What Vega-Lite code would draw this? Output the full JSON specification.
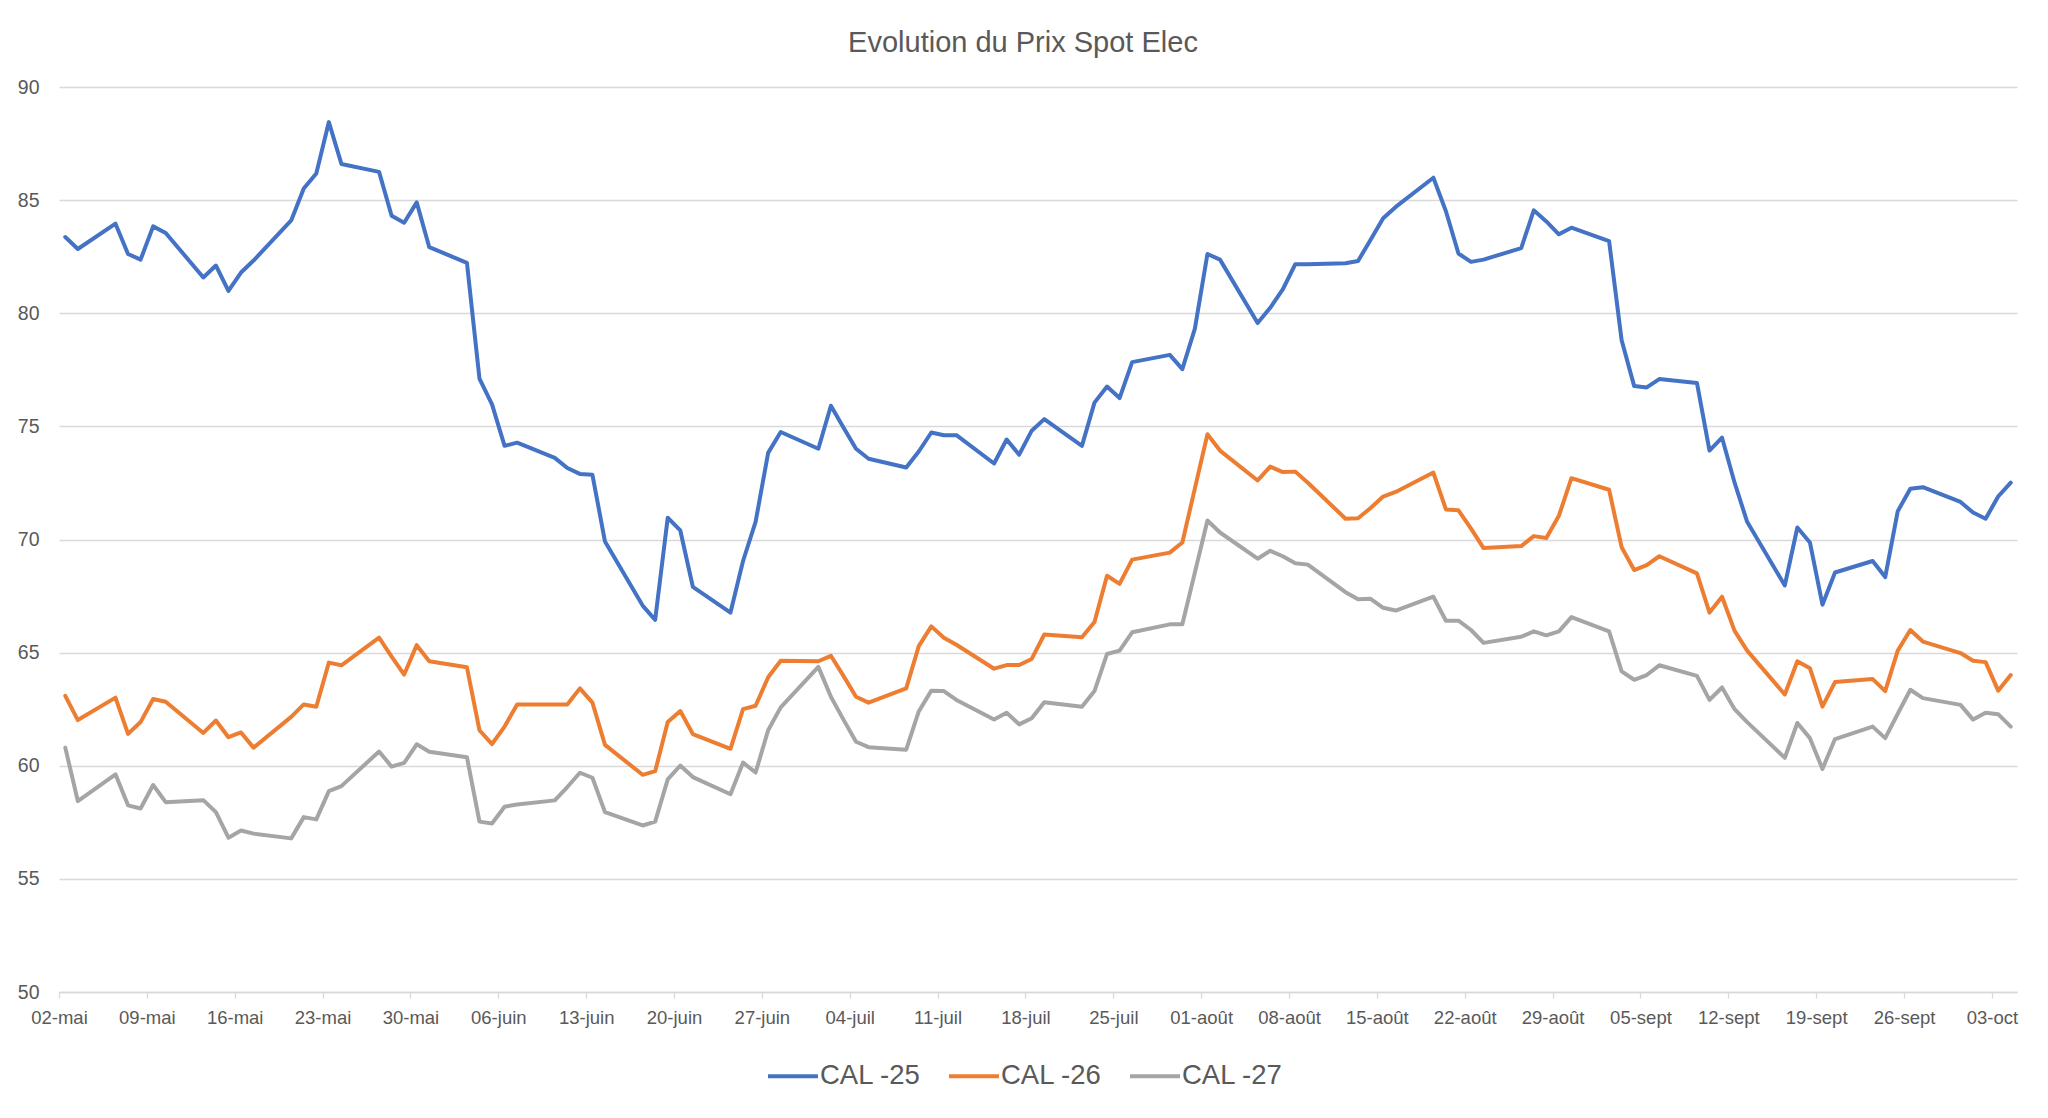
{
  "$schema": "https://vega.github.io/schema/vega-lite/v6.json",
  "width": 1958,
  "height": 905,
  "autosize": {"type": "none"},
  "padding": {"left": 59, "top": 87, "right": 31, "bottom": 126},
  "background": "white",
  "title": {"text": "Evolution du Prix Spot Elec", "font": "Liberation Sans", "fontSize": 29, "fontWeight": "normal", "color": "#595959", "anchor": "middle", "dx": -15, "offset": 35, "dy": 39, "baseline": "alphabetic"},
  "datasets": {
    "prix": [
      {"d":"2024-05-02T12:00:00Z","s":"CAL -25","v":83.37},{"d":"2024-05-02T12:00:00Z","s":"CAL -26","v":63.09},{"d":"2024-05-02T12:00:00Z","s":"CAL -27","v":60.80},
      {"d":"2024-05-03T12:00:00Z","s":"CAL -25","v":82.84},{"d":"2024-05-03T12:00:00Z","s":"CAL -26","v":62.02},{"d":"2024-05-03T12:00:00Z","s":"CAL -27","v":58.44},
      {"d":"2024-05-06T12:00:00Z","s":"CAL -25","v":83.96},{"d":"2024-05-06T12:00:00Z","s":"CAL -26","v":63.01},{"d":"2024-05-06T12:00:00Z","s":"CAL -27","v":59.62},
      {"d":"2024-05-07T12:00:00Z","s":"CAL -25","v":82.62},{"d":"2024-05-07T12:00:00Z","s":"CAL -26","v":61.41},{"d":"2024-05-07T12:00:00Z","s":"CAL -27","v":58.25},
      {"d":"2024-05-08T12:00:00Z","s":"CAL -25","v":82.37},{"d":"2024-05-08T12:00:00Z","s":"CAL -26","v":61.93},{"d":"2024-05-08T12:00:00Z","s":"CAL -27","v":58.11},
      {"d":"2024-05-09T12:00:00Z","s":"CAL -25","v":83.84},{"d":"2024-05-09T12:00:00Z","s":"CAL -26","v":62.95},{"d":"2024-05-09T12:00:00Z","s":"CAL -27","v":59.15},
      {"d":"2024-05-10T12:00:00Z","s":"CAL -25","v":83.55},{"d":"2024-05-10T12:00:00Z","s":"CAL -26","v":62.83},{"d":"2024-05-10T12:00:00Z","s":"CAL -27","v":58.39},
      {"d":"2024-05-13T12:00:00Z","s":"CAL -25","v":81.58},{"d":"2024-05-13T12:00:00Z","s":"CAL -26","v":61.45},{"d":"2024-05-13T12:00:00Z","s":"CAL -27","v":58.48},
      {"d":"2024-05-14T12:00:00Z","s":"CAL -25","v":82.11},{"d":"2024-05-14T12:00:00Z","s":"CAL -26","v":62.00},{"d":"2024-05-14T12:00:00Z","s":"CAL -27","v":57.95},
      {"d":"2024-05-15T12:00:00Z","s":"CAL -25","v":80.99},{"d":"2024-05-15T12:00:00Z","s":"CAL -26","v":61.26},{"d":"2024-05-15T12:00:00Z","s":"CAL -27","v":56.82},
      {"d":"2024-05-16T12:00:00Z","s":"CAL -25","v":81.80},{"d":"2024-05-16T12:00:00Z","s":"CAL -26","v":61.47},{"d":"2024-05-16T12:00:00Z","s":"CAL -27","v":57.14},
      {"d":"2024-05-17T12:00:00Z","s":"CAL -25","v":82.33},{"d":"2024-05-17T12:00:00Z","s":"CAL -26","v":60.80},{"d":"2024-05-17T12:00:00Z","s":"CAL -27","v":57.00},
      {"d":"2024-05-20T12:00:00Z","s":"CAL -25","v":84.10},{"d":"2024-05-20T12:00:00Z","s":"CAL -26","v":62.16},{"d":"2024-05-20T12:00:00Z","s":"CAL -27","v":56.79},
      {"d":"2024-05-21T12:00:00Z","s":"CAL -25","v":85.51},{"d":"2024-05-21T12:00:00Z","s":"CAL -26","v":62.71},{"d":"2024-05-21T12:00:00Z","s":"CAL -27","v":57.73},
      {"d":"2024-05-22T12:00:00Z","s":"CAL -25","v":86.18},{"d":"2024-05-22T12:00:00Z","s":"CAL -26","v":62.61},{"d":"2024-05-22T12:00:00Z","s":"CAL -27","v":57.63},
      {"d":"2024-05-23T12:00:00Z","s":"CAL -25","v":88.45},{"d":"2024-05-23T12:00:00Z","s":"CAL -26","v":64.56},{"d":"2024-05-23T12:00:00Z","s":"CAL -27","v":58.88},
      {"d":"2024-05-24T12:00:00Z","s":"CAL -25","v":86.60},{"d":"2024-05-24T12:00:00Z","s":"CAL -26","v":64.44},{"d":"2024-05-24T12:00:00Z","s":"CAL -27","v":59.10},
      {"d":"2024-05-27T12:00:00Z","s":"CAL -25","v":86.25},{"d":"2024-05-27T12:00:00Z","s":"CAL -26","v":65.66},{"d":"2024-05-27T12:00:00Z","s":"CAL -27","v":60.63},
      {"d":"2024-05-28T12:00:00Z","s":"CAL -25","v":84.31},{"d":"2024-05-28T12:00:00Z","s":"CAL -26","v":64.82},{"d":"2024-05-28T12:00:00Z","s":"CAL -27","v":59.96},
      {"d":"2024-05-29T12:00:00Z","s":"CAL -25","v":84.00},{"d":"2024-05-29T12:00:00Z","s":"CAL -26","v":64.03},{"d":"2024-05-29T12:00:00Z","s":"CAL -27","v":60.13},
      {"d":"2024-05-30T12:00:00Z","s":"CAL -25","v":84.90},{"d":"2024-05-30T12:00:00Z","s":"CAL -26","v":65.33},{"d":"2024-05-30T12:00:00Z","s":"CAL -27","v":60.95},
      {"d":"2024-05-31T12:00:00Z","s":"CAL -25","v":82.92},{"d":"2024-05-31T12:00:00Z","s":"CAL -26","v":64.62},{"d":"2024-05-31T12:00:00Z","s":"CAL -27","v":60.62},
      {"d":"2024-06-03T12:00:00Z","s":"CAL -25","v":82.23},{"d":"2024-06-03T12:00:00Z","s":"CAL -26","v":64.35},{"d":"2024-06-03T12:00:00Z","s":"CAL -27","v":60.38},
      {"d":"2024-06-04T12:00:00Z","s":"CAL -25","v":77.11},{"d":"2024-06-04T12:00:00Z","s":"CAL -26","v":61.57},{"d":"2024-06-04T12:00:00Z","s":"CAL -27","v":57.53},
      {"d":"2024-06-05T12:00:00Z","s":"CAL -25","v":75.97},{"d":"2024-06-05T12:00:00Z","s":"CAL -26","v":60.96},{"d":"2024-06-05T12:00:00Z","s":"CAL -27","v":57.45},
      {"d":"2024-06-06T12:00:00Z","s":"CAL -25","v":74.14},{"d":"2024-06-06T12:00:00Z","s":"CAL -26","v":61.73},{"d":"2024-06-06T12:00:00Z","s":"CAL -27","v":58.19},
      {"d":"2024-06-07T12:00:00Z","s":"CAL -25","v":74.28},{"d":"2024-06-07T12:00:00Z","s":"CAL -26","v":62.71},{"d":"2024-06-07T12:00:00Z","s":"CAL -27","v":58.29},
      {"d":"2024-06-10T12:00:00Z","s":"CAL -25","v":73.61},{"d":"2024-06-10T12:00:00Z","s":"CAL -26","v":62.71},{"d":"2024-06-10T12:00:00Z","s":"CAL -27","v":58.47},
      {"d":"2024-06-11T12:00:00Z","s":"CAL -25","v":73.16},{"d":"2024-06-11T12:00:00Z","s":"CAL -26","v":62.71},{"d":"2024-06-11T12:00:00Z","s":"CAL -27","v":59.06},
      {"d":"2024-06-12T12:00:00Z","s":"CAL -25","v":72.90},{"d":"2024-06-12T12:00:00Z","s":"CAL -26","v":63.42},{"d":"2024-06-12T12:00:00Z","s":"CAL -27","v":59.69},
      {"d":"2024-06-13T12:00:00Z","s":"CAL -25","v":72.86},{"d":"2024-06-13T12:00:00Z","s":"CAL -26","v":62.79},{"d":"2024-06-13T12:00:00Z","s":"CAL -27","v":59.47},
      {"d":"2024-06-14T12:00:00Z","s":"CAL -25","v":69.91},{"d":"2024-06-14T12:00:00Z","s":"CAL -26","v":60.92},{"d":"2024-06-14T12:00:00Z","s":"CAL -27","v":57.95},
      {"d":"2024-06-17T12:00:00Z","s":"CAL -25","v":67.08},{"d":"2024-06-17T12:00:00Z","s":"CAL -26","v":59.60},{"d":"2024-06-17T12:00:00Z","s":"CAL -27","v":57.36},
      {"d":"2024-06-18T12:00:00Z","s":"CAL -25","v":66.45},{"d":"2024-06-18T12:00:00Z","s":"CAL -26","v":59.76},{"d":"2024-06-18T12:00:00Z","s":"CAL -27","v":57.53},
      {"d":"2024-06-19T12:00:00Z","s":"CAL -25","v":70.96},{"d":"2024-06-19T12:00:00Z","s":"CAL -26","v":61.93},{"d":"2024-06-19T12:00:00Z","s":"CAL -27","v":59.40},
      {"d":"2024-06-20T12:00:00Z","s":"CAL -25","v":70.40},{"d":"2024-06-20T12:00:00Z","s":"CAL -26","v":62.42},{"d":"2024-06-20T12:00:00Z","s":"CAL -27","v":60.01},
      {"d":"2024-06-21T12:00:00Z","s":"CAL -25","v":67.91},{"d":"2024-06-21T12:00:00Z","s":"CAL -26","v":61.40},{"d":"2024-06-21T12:00:00Z","s":"CAL -27","v":59.50},
      {"d":"2024-06-24T12:00:00Z","s":"CAL -25","v":66.77},{"d":"2024-06-24T12:00:00Z","s":"CAL -26","v":60.75},{"d":"2024-06-24T12:00:00Z","s":"CAL -27","v":58.74},
      {"d":"2024-06-25T12:00:00Z","s":"CAL -25","v":69.05},{"d":"2024-06-25T12:00:00Z","s":"CAL -26","v":62.50},{"d":"2024-06-25T12:00:00Z","s":"CAL -27","v":60.14},
      {"d":"2024-06-26T12:00:00Z","s":"CAL -25","v":70.78},{"d":"2024-06-26T12:00:00Z","s":"CAL -26","v":62.65},{"d":"2024-06-26T12:00:00Z","s":"CAL -27","v":59.70},
      {"d":"2024-06-27T12:00:00Z","s":"CAL -25","v":73.83},{"d":"2024-06-27T12:00:00Z","s":"CAL -26","v":63.91},{"d":"2024-06-27T12:00:00Z","s":"CAL -27","v":61.57},
      {"d":"2024-06-28T12:00:00Z","s":"CAL -25","v":74.75},{"d":"2024-06-28T12:00:00Z","s":"CAL -26","v":64.64},{"d":"2024-06-28T12:00:00Z","s":"CAL -27","v":62.58},
      {"d":"2024-07-01T12:00:00Z","s":"CAL -25","v":74.01},{"d":"2024-07-01T12:00:00Z","s":"CAL -26","v":64.62},{"d":"2024-07-01T12:00:00Z","s":"CAL -27","v":64.37},
      {"d":"2024-07-02T12:00:00Z","s":"CAL -25","v":75.91},{"d":"2024-07-02T12:00:00Z","s":"CAL -26","v":64.86},{"d":"2024-07-02T12:00:00Z","s":"CAL -27","v":63.05},
      {"d":"2024-07-03T12:00:00Z","s":"CAL -25","v":74.95},{"d":"2024-07-03T12:00:00Z","s":"CAL -26","v":63.97},{"d":"2024-07-03T12:00:00Z","s":"CAL -27","v":62.04},
      {"d":"2024-07-04T12:00:00Z","s":"CAL -25","v":74.01},{"d":"2024-07-04T12:00:00Z","s":"CAL -26","v":63.05},{"d":"2024-07-04T12:00:00Z","s":"CAL -27","v":61.06},
      {"d":"2024-07-05T12:00:00Z","s":"CAL -25","v":73.57},{"d":"2024-07-05T12:00:00Z","s":"CAL -26","v":62.79},{"d":"2024-07-05T12:00:00Z","s":"CAL -27","v":60.82},
      {"d":"2024-07-08T12:00:00Z","s":"CAL -25","v":73.18},{"d":"2024-07-08T12:00:00Z","s":"CAL -26","v":63.42},{"d":"2024-07-08T12:00:00Z","s":"CAL -27","v":60.71},
      {"d":"2024-07-09T12:00:00Z","s":"CAL -25","v":73.89},{"d":"2024-07-09T12:00:00Z","s":"CAL -26","v":65.29},{"d":"2024-07-09T12:00:00Z","s":"CAL -27","v":62.40},
      {"d":"2024-07-10T12:00:00Z","s":"CAL -25","v":74.73},{"d":"2024-07-10T12:00:00Z","s":"CAL -26","v":66.16},{"d":"2024-07-10T12:00:00Z","s":"CAL -27","v":63.32},
      {"d":"2024-07-11T12:00:00Z","s":"CAL -25","v":74.61},{"d":"2024-07-11T12:00:00Z","s":"CAL -26","v":65.66},{"d":"2024-07-11T12:00:00Z","s":"CAL -27","v":63.30},
      {"d":"2024-07-12T12:00:00Z","s":"CAL -25","v":74.61},{"d":"2024-07-12T12:00:00Z","s":"CAL -26","v":65.35},{"d":"2024-07-12T12:00:00Z","s":"CAL -27","v":62.91},
      {"d":"2024-07-15T12:00:00Z","s":"CAL -25","v":73.36},{"d":"2024-07-15T12:00:00Z","s":"CAL -26","v":64.29},{"d":"2024-07-15T12:00:00Z","s":"CAL -27","v":62.04},
      {"d":"2024-07-16T12:00:00Z","s":"CAL -25","v":74.42},{"d":"2024-07-16T12:00:00Z","s":"CAL -26","v":64.45},{"d":"2024-07-16T12:00:00Z","s":"CAL -27","v":62.34},
      {"d":"2024-07-17T12:00:00Z","s":"CAL -25","v":73.75},{"d":"2024-07-17T12:00:00Z","s":"CAL -26","v":64.45},{"d":"2024-07-17T12:00:00Z","s":"CAL -27","v":61.83},
      {"d":"2024-07-18T12:00:00Z","s":"CAL -25","v":74.81},{"d":"2024-07-18T12:00:00Z","s":"CAL -26","v":64.72},{"d":"2024-07-18T12:00:00Z","s":"CAL -27","v":62.10},
      {"d":"2024-07-19T12:00:00Z","s":"CAL -25","v":75.32},{"d":"2024-07-19T12:00:00Z","s":"CAL -26","v":65.80},{"d":"2024-07-19T12:00:00Z","s":"CAL -27","v":62.81},
      {"d":"2024-07-22T12:00:00Z","s":"CAL -25","v":74.14},{"d":"2024-07-22T12:00:00Z","s":"CAL -26","v":65.68},{"d":"2024-07-22T12:00:00Z","s":"CAL -27","v":62.61},
      {"d":"2024-07-23T12:00:00Z","s":"CAL -25","v":76.05},{"d":"2024-07-23T12:00:00Z","s":"CAL -26","v":66.35},{"d":"2024-07-23T12:00:00Z","s":"CAL -27","v":63.30},
      {"d":"2024-07-24T12:00:00Z","s":"CAL -25","v":76.76},{"d":"2024-07-24T12:00:00Z","s":"CAL -26","v":68.40},{"d":"2024-07-24T12:00:00Z","s":"CAL -27","v":64.94},
      {"d":"2024-07-25T12:00:00Z","s":"CAL -25","v":76.25},{"d":"2024-07-25T12:00:00Z","s":"CAL -26","v":68.04},{"d":"2024-07-25T12:00:00Z","s":"CAL -27","v":65.09},
      {"d":"2024-07-26T12:00:00Z","s":"CAL -25","v":77.84},{"d":"2024-07-26T12:00:00Z","s":"CAL -26","v":69.11},{"d":"2024-07-26T12:00:00Z","s":"CAL -27","v":65.90},
      {"d":"2024-07-29T12:00:00Z","s":"CAL -25","v":78.16},{"d":"2024-07-29T12:00:00Z","s":"CAL -26","v":69.42},{"d":"2024-07-29T12:00:00Z","s":"CAL -27","v":66.25},
      {"d":"2024-07-30T12:00:00Z","s":"CAL -25","v":77.53},{"d":"2024-07-30T12:00:00Z","s":"CAL -26","v":69.87},{"d":"2024-07-30T12:00:00Z","s":"CAL -27","v":66.25},
      {"d":"2024-07-31T12:00:00Z","s":"CAL -25","v":79.32},{"d":"2024-07-31T12:00:00Z","s":"CAL -26","v":72.26},{"d":"2024-07-31T12:00:00Z","s":"CAL -27","v":68.54},
      {"d":"2024-08-01T12:00:00Z","s":"CAL -25","v":82.62},{"d":"2024-08-01T12:00:00Z","s":"CAL -26","v":74.65},{"d":"2024-08-01T12:00:00Z","s":"CAL -27","v":70.84},
      {"d":"2024-08-02T12:00:00Z","s":"CAL -25","v":82.37},{"d":"2024-08-02T12:00:00Z","s":"CAL -26","v":73.93},{"d":"2024-08-02T12:00:00Z","s":"CAL -27","v":70.31},
      {"d":"2024-08-05T12:00:00Z","s":"CAL -25","v":79.57},{"d":"2024-08-05T12:00:00Z","s":"CAL -26","v":72.61},{"d":"2024-08-05T12:00:00Z","s":"CAL -27","v":69.15},
      {"d":"2024-08-06T12:00:00Z","s":"CAL -25","v":80.24},{"d":"2024-08-06T12:00:00Z","s":"CAL -26","v":73.22},{"d":"2024-08-06T12:00:00Z","s":"CAL -27","v":69.50},
      {"d":"2024-08-07T12:00:00Z","s":"CAL -25","v":81.05},{"d":"2024-08-07T12:00:00Z","s":"CAL -26","v":72.98},{"d":"2024-08-07T12:00:00Z","s":"CAL -27","v":69.26},
      {"d":"2024-08-08T12:00:00Z","s":"CAL -25","v":82.17},{"d":"2024-08-08T12:00:00Z","s":"CAL -26","v":73.00},{"d":"2024-08-08T12:00:00Z","s":"CAL -27","v":68.95},
      {"d":"2024-08-09T12:00:00Z","s":"CAL -25","v":82.17},{"d":"2024-08-09T12:00:00Z","s":"CAL -26","v":72.51},{"d":"2024-08-09T12:00:00Z","s":"CAL -27","v":68.89},
      {"d":"2024-08-12T12:00:00Z","s":"CAL -25","v":82.21},{"d":"2024-08-12T12:00:00Z","s":"CAL -26","v":70.92},{"d":"2024-08-12T12:00:00Z","s":"CAL -27","v":67.67},
      {"d":"2024-08-13T12:00:00Z","s":"CAL -25","v":82.31},{"d":"2024-08-13T12:00:00Z","s":"CAL -26","v":70.94},{"d":"2024-08-13T12:00:00Z","s":"CAL -27","v":67.36},
      {"d":"2024-08-14T12:00:00Z","s":"CAL -25","v":83.25},{"d":"2024-08-14T12:00:00Z","s":"CAL -26","v":71.39},{"d":"2024-08-14T12:00:00Z","s":"CAL -27","v":67.38},
      {"d":"2024-08-15T12:00:00Z","s":"CAL -25","v":84.20},{"d":"2024-08-15T12:00:00Z","s":"CAL -26","v":71.90},{"d":"2024-08-15T12:00:00Z","s":"CAL -27","v":66.98},
      {"d":"2024-08-16T12:00:00Z","s":"CAL -25","v":84.70},{"d":"2024-08-16T12:00:00Z","s":"CAL -26","v":72.10},{"d":"2024-08-16T12:00:00Z","s":"CAL -27","v":66.86},
      {"d":"2024-08-19T12:00:00Z","s":"CAL -25","v":85.99},{"d":"2024-08-19T12:00:00Z","s":"CAL -26","v":72.96},{"d":"2024-08-19T12:00:00Z","s":"CAL -27","v":67.47},
      {"d":"2024-08-20T12:00:00Z","s":"CAL -25","v":84.51},{"d":"2024-08-20T12:00:00Z","s":"CAL -26","v":71.33},{"d":"2024-08-20T12:00:00Z","s":"CAL -27","v":66.41},
      {"d":"2024-08-21T12:00:00Z","s":"CAL -25","v":82.64},{"d":"2024-08-21T12:00:00Z","s":"CAL -26","v":71.29},{"d":"2024-08-21T12:00:00Z","s":"CAL -27","v":66.41},
      {"d":"2024-08-22T12:00:00Z","s":"CAL -25","v":82.27},{"d":"2024-08-22T12:00:00Z","s":"CAL -26","v":70.48},{"d":"2024-08-22T12:00:00Z","s":"CAL -27","v":66.00},
      {"d":"2024-08-23T12:00:00Z","s":"CAL -25","v":82.37},{"d":"2024-08-23T12:00:00Z","s":"CAL -26","v":69.62},{"d":"2024-08-23T12:00:00Z","s":"CAL -27","v":65.43},
      {"d":"2024-08-26T12:00:00Z","s":"CAL -25","v":82.88},{"d":"2024-08-26T12:00:00Z","s":"CAL -26","v":69.71},{"d":"2024-08-26T12:00:00Z","s":"CAL -27","v":65.70},
      {"d":"2024-08-27T12:00:00Z","s":"CAL -25","v":84.55},{"d":"2024-08-27T12:00:00Z","s":"CAL -26","v":70.15},{"d":"2024-08-27T12:00:00Z","s":"CAL -27","v":65.94},
      {"d":"2024-08-28T12:00:00Z","s":"CAL -25","v":84.06},{"d":"2024-08-28T12:00:00Z","s":"CAL -26","v":70.07},{"d":"2024-08-28T12:00:00Z","s":"CAL -27","v":65.76},
      {"d":"2024-08-29T12:00:00Z","s":"CAL -25","v":83.49},{"d":"2024-08-29T12:00:00Z","s":"CAL -26","v":71.05},{"d":"2024-08-29T12:00:00Z","s":"CAL -27","v":65.94},
      {"d":"2024-08-30T12:00:00Z","s":"CAL -25","v":83.78},{"d":"2024-08-30T12:00:00Z","s":"CAL -26","v":72.71},{"d":"2024-08-30T12:00:00Z","s":"CAL -27","v":66.57},
      {"d":"2024-09-02T12:00:00Z","s":"CAL -25","v":83.19},{"d":"2024-09-02T12:00:00Z","s":"CAL -26","v":72.20},{"d":"2024-09-02T12:00:00Z","s":"CAL -27","v":65.94},
      {"d":"2024-09-03T12:00:00Z","s":"CAL -25","v":78.81},{"d":"2024-09-03T12:00:00Z","s":"CAL -26","v":69.66},{"d":"2024-09-03T12:00:00Z","s":"CAL -27","v":64.17},
      {"d":"2024-09-04T12:00:00Z","s":"CAL -25","v":76.78},{"d":"2024-09-04T12:00:00Z","s":"CAL -26","v":68.65},{"d":"2024-09-04T12:00:00Z","s":"CAL -27","v":63.80},
      {"d":"2024-09-05T12:00:00Z","s":"CAL -25","v":76.72},{"d":"2024-09-05T12:00:00Z","s":"CAL -26","v":68.87},{"d":"2024-09-05T12:00:00Z","s":"CAL -27","v":64.01},
      {"d":"2024-09-06T12:00:00Z","s":"CAL -25","v":77.09},{"d":"2024-09-06T12:00:00Z","s":"CAL -26","v":69.26},{"d":"2024-09-06T12:00:00Z","s":"CAL -27","v":64.44},
      {"d":"2024-09-09T12:00:00Z","s":"CAL -25","v":76.92},{"d":"2024-09-09T12:00:00Z","s":"CAL -26","v":68.50},{"d":"2024-09-09T12:00:00Z","s":"CAL -27","v":63.97},
      {"d":"2024-09-10T12:00:00Z","s":"CAL -25","v":73.93},{"d":"2024-09-10T12:00:00Z","s":"CAL -26","v":66.77},{"d":"2024-09-10T12:00:00Z","s":"CAL -27","v":62.91},
      {"d":"2024-09-11T12:00:00Z","s":"CAL -25","v":74.50},{"d":"2024-09-11T12:00:00Z","s":"CAL -26","v":67.47},{"d":"2024-09-11T12:00:00Z","s":"CAL -27","v":63.46},
      {"d":"2024-09-12T12:00:00Z","s":"CAL -25","v":72.51},{"d":"2024-09-12T12:00:00Z","s":"CAL -26","v":65.96},{"d":"2024-09-12T12:00:00Z","s":"CAL -27","v":62.50},
      {"d":"2024-09-13T12:00:00Z","s":"CAL -25","v":70.78},{"d":"2024-09-13T12:00:00Z","s":"CAL -26","v":65.09},{"d":"2024-09-13T12:00:00Z","s":"CAL -27","v":61.93},
      {"d":"2024-09-16T12:00:00Z","s":"CAL -25","v":67.97},{"d":"2024-09-16T12:00:00Z","s":"CAL -26","v":63.15},{"d":"2024-09-16T12:00:00Z","s":"CAL -27","v":60.35},
      {"d":"2024-09-17T12:00:00Z","s":"CAL -25","v":70.53},{"d":"2024-09-17T12:00:00Z","s":"CAL -26","v":64.62},{"d":"2024-09-17T12:00:00Z","s":"CAL -27","v":61.89},
      {"d":"2024-09-18T12:00:00Z","s":"CAL -25","v":69.87},{"d":"2024-09-18T12:00:00Z","s":"CAL -26","v":64.31},{"d":"2024-09-18T12:00:00Z","s":"CAL -27","v":61.22},
      {"d":"2024-09-19T12:00:00Z","s":"CAL -25","v":67.12},{"d":"2024-09-19T12:00:00Z","s":"CAL -26","v":62.61},{"d":"2024-09-19T12:00:00Z","s":"CAL -27","v":59.86},
      {"d":"2024-09-20T12:00:00Z","s":"CAL -25","v":68.54},{"d":"2024-09-20T12:00:00Z","s":"CAL -26","v":63.70},{"d":"2024-09-20T12:00:00Z","s":"CAL -27","v":61.18},
      {"d":"2024-09-23T12:00:00Z","s":"CAL -25","v":69.05},{"d":"2024-09-23T12:00:00Z","s":"CAL -26","v":63.83},{"d":"2024-09-23T12:00:00Z","s":"CAL -27","v":61.73},
      {"d":"2024-09-24T12:00:00Z","s":"CAL -25","v":68.34},{"d":"2024-09-24T12:00:00Z","s":"CAL -26","v":63.30},{"d":"2024-09-24T12:00:00Z","s":"CAL -27","v":61.22},
      {"d":"2024-09-25T12:00:00Z","s":"CAL -25","v":71.25},{"d":"2024-09-25T12:00:00Z","s":"CAL -26","v":65.09},{"d":"2024-09-25T12:00:00Z","s":"CAL -27","v":62.30},
      {"d":"2024-09-26T12:00:00Z","s":"CAL -25","v":72.24},{"d":"2024-09-26T12:00:00Z","s":"CAL -26","v":66.00},{"d":"2024-09-26T12:00:00Z","s":"CAL -27","v":63.36},
      {"d":"2024-09-27T12:00:00Z","s":"CAL -25","v":72.31},{"d":"2024-09-27T12:00:00Z","s":"CAL -26","v":65.49},{"d":"2024-09-27T12:00:00Z","s":"CAL -27","v":62.99},
      {"d":"2024-09-30T12:00:00Z","s":"CAL -25","v":71.66},{"d":"2024-09-30T12:00:00Z","s":"CAL -26","v":64.98},{"d":"2024-09-30T12:00:00Z","s":"CAL -27","v":62.69},
      {"d":"2024-10-01T12:00:00Z","s":"CAL -25","v":71.19},{"d":"2024-10-01T12:00:00Z","s":"CAL -26","v":64.64},{"d":"2024-10-01T12:00:00Z","s":"CAL -27","v":62.04},
      {"d":"2024-10-02T12:00:00Z","s":"CAL -25","v":70.92},{"d":"2024-10-02T12:00:00Z","s":"CAL -26","v":64.58},{"d":"2024-10-02T12:00:00Z","s":"CAL -27","v":62.34},
      {"d":"2024-10-03T12:00:00Z","s":"CAL -25","v":71.90},{"d":"2024-10-03T12:00:00Z","s":"CAL -26","v":63.32},{"d":"2024-10-03T12:00:00Z","s":"CAL -27","v":62.28},
      {"d":"2024-10-04T12:00:00Z","s":"CAL -25","v":72.51},{"d":"2024-10-04T12:00:00Z","s":"CAL -26","v":64.01},{"d":"2024-10-04T12:00:00Z","s":"CAL -27","v":61.73}
    ]
  },
  "data": {"name": "prix"},
  "mark": {"type": "line", "strokeWidth": 4, "strokeJoin": "round", "strokeCap": "round"},
  "encoding": {
    "x": {
      "field": "d",
      "type": "temporal",
      "scale": {"type": "utc", "domain": [{"year": 2024, "month": 5, "date": 2, "utc": true}, {"year": 2024, "month": 10, "date": 5, "utc": true}]},
      "axis": {
        "title": null,
        "grid": false,
        "values": [
          {"year": 2024, "month": 5, "date": 2, "utc": true}, {"year": 2024, "month": 5, "date": 9, "utc": true}, {"year": 2024, "month": 5, "date": 16, "utc": true}, {"year": 2024, "month": 5, "date": 23, "utc": true}, {"year": 2024, "month": 5, "date": 30, "utc": true},
          {"year": 2024, "month": 6, "date": 6, "utc": true}, {"year": 2024, "month": 6, "date": 13, "utc": true}, {"year": 2024, "month": 6, "date": 20, "utc": true}, {"year": 2024, "month": 6, "date": 27, "utc": true},
          {"year": 2024, "month": 7, "date": 4, "utc": true}, {"year": 2024, "month": 7, "date": 11, "utc": true}, {"year": 2024, "month": 7, "date": 18, "utc": true}, {"year": 2024, "month": 7, "date": 25, "utc": true},
          {"year": 2024, "month": 8, "date": 1, "utc": true}, {"year": 2024, "month": 8, "date": 8, "utc": true}, {"year": 2024, "month": 8, "date": 15, "utc": true}, {"year": 2024, "month": 8, "date": 22, "utc": true}, {"year": 2024, "month": 8, "date": 29, "utc": true},
          {"year": 2024, "month": 9, "date": 5, "utc": true}, {"year": 2024, "month": 9, "date": 12, "utc": true}, {"year": 2024, "month": 9, "date": 19, "utc": true}, {"year": 2024, "month": 9, "date": 26, "utc": true},
          {"year": 2024, "month": 10, "date": 3, "utc": true}
        ],
        "labelExpr": "utcFormat(datum.value, '%d') + '-' + ['janv','févr','mars','avr','mai','juin','juil','août','sept','oct','nov','déc'][utcmonth(datum.value)]",
        "domainColor": "#d9d9d9",
        "domainWidth": 1.3,
        "tickColor": "#d9d9d9",
        "tickWidth": 1.3,
        "tickSize": 6,
        "labelFont": "Liberation Sans",
        "labelFontSize": 18.5,
        "labelColor": "#595959",
        "labelPadding": 10,
        "labelFlush": false,
        "labelOverlap": false
      }
    },
    "y": {
      "field": "v",
      "type": "quantitative",
      "scale": {"domain": [50, 90], "nice": false, "zero": false},
      "axis": {
        "title": null,
        "values": [50, 55, 60, 65, 70, 75, 80, 85, 90],
        "domain": false,
        "ticks": false,
        "grid": true,
        "gridColor": "#d9d9d9",
        "gridWidth": 1.3,
        "labelFont": "Liberation Sans",
        "labelFontSize": 19.5,
        "labelColor": "#595959",
        "labelPadding": 20
      }
    },
    "color": {
      "field": "s",
      "type": "nominal",
      "scale": {"domain": ["CAL -25", "CAL -26", "CAL -27"], "range": ["#4472C4", "#ED7D31", "#A5A5A5"]},
      "legend": {
        "title": null,
        "orient": "none",
        "legendX": 707,
        "legendY": 962,
        "direction": "horizontal",
        "symbolType": "stroke",
        "symbolSize": 2500,
        "symbolStrokeWidth": 4,
        "labelFont": "Liberation Sans",
        "labelFontSize": 27.5,
        "labelColor": "#595959",
        "labelOffset": 0,
        "columnPadding": 20,
        "padding": 0
      }
    }
  },
  "config": {"view": {"stroke": null}}
}
